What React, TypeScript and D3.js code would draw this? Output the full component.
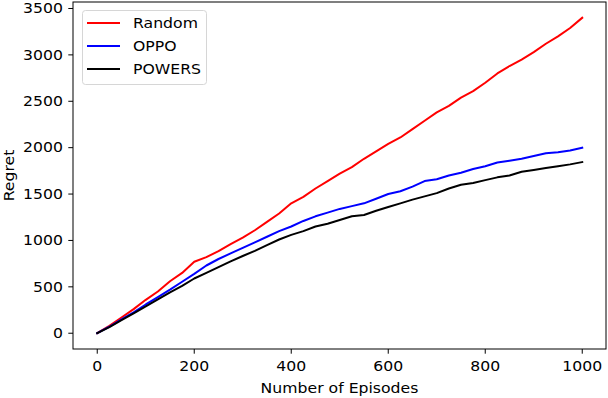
import React from "react";
import * as d3 from "d3";

const episodes = [0,25,50,75,100,125,150,175,200,225,250,275,300,325,350,375,400,425,450,475,500,525,550,575,600,625,650,675,700,725,750,775,800,825,850,875,900,925,950,975,1000];
const randomRegret = [0,80,170,260,360,450,560,650,770,820,885,960,1030,1110,1200,1290,1400,1470,1560,1640,1720,1790,1880,1960,2040,2110,2200,2290,2380,2450,2540,2610,2700,2800,2880,2950,3030,3120,3200,3290,3400];
const oppoRegret = [0,70,150,225,310,390,470,555,640,730,800,860,920,980,1040,1100,1150,1210,1260,1300,1340,1370,1400,1450,1500,1530,1580,1640,1660,1700,1730,1770,1800,1840,1860,1880,1910,1940,1950,1970,2000];
const powersRegret = [0,65,140,215,290,365,440,510,590,650,712,775,832,888,950,1010,1060,1100,1150,1180,1220,1260,1275,1320,1360,1400,1440,1475,1510,1560,1600,1620,1650,1680,1700,1740,1760,1780,1800,1820,1845];
const xTicks = [0,200,400,600,800,1000];
const yTicks = [0,500,1000,1500,2000,2500,3000,3500];
const seriesNames = ["Random","OPPO","POWERS"];
const seriesColors = ["#ff0000","#0000ff","#000000"];

const W = 608, H = 398;
const L = 73, R = 606, T = 2, B = 349;
const font = "'DejaVu Sans', sans-serif";
const fs = 14;
const sx = 1.12;

function T2({x, y, anchor, children, rotate}: any) {
  const tr = rotate ? `translate(${x},${y}) rotate(-90) scale(${sx},1)` : `translate(${x},${y}) scale(${sx},1)`;
  return <text transform={tr} textAnchor={anchor} dominantBaseline="central" fontFamily={font} fontSize={fs} fill="#000">{children}</text>;
}

export default function App() {
  const x = d3.scaleLinear().domain([-50, 1049]).range([L, R]);
  const y = d3.scaleLinear().domain([-170, 3570]).range([B, T]);
  const all = [randomRegret, oppoRegret, powersRegret];
  const line = d3.line<[number, number]>().x(d => x(d[0])).y(d => y(d[1]));
  return (
    <svg width={W} height={H} style={{position: "absolute", left: 0, top: 0, background: "#fff"}}>
      <rect x={0} y={0} width={W} height={H} fill="#fff" />
      {all.map((s, i) => (
        <path key={i} d={line(episodes.map((e, j) => [e, s[j]] as [number, number])) || ""} fill="none" stroke={seriesColors[i]} strokeWidth={2} strokeLinejoin="round" strokeLinecap="square" />
      ))}
      <rect x={L} y={T} width={R - L} height={B - T} fill="none" stroke="#000" strokeWidth={1} />
      {xTicks.map(t => (
        <g key={t}>
          <line x1={x(t)} x2={x(t)} y1={B} y2={B + 4.7} stroke="#000" strokeWidth={1} />
          <T2 x={x(t)} y={366} anchor="middle">{t}</T2>
        </g>
      ))}
      {yTicks.map(t => (
        <g key={t}>
          <line x1={L - 4.7} x2={L} y1={y(t)} y2={y(t)} stroke="#000" strokeWidth={1} />
          <T2 x={63} y={y(t)} anchor="end">{t}</T2>
        </g>
      ))}
      <T2 x={(L + R) / 2} y={388} anchor="middle">Number of Episodes</T2>
      <T2 x={9} y={(T + B) / 2} anchor="middle" rotate>Regret</T2>
      <rect x={82.5} y={10.5} width={124} height={74} rx={3} fill="#fff" fillOpacity={0.8} stroke="#d6d6d6" strokeWidth={1} />
      {seriesNames.map((n, i) => (
        <g key={n}>
          <line x1={87} x2={120} y1={23 + i * 23} y2={23 + i * 23} stroke={seriesColors[i]} strokeWidth={2} />
          <T2 x={133} y={23 + i * 23} anchor="start">{n}</T2>
        </g>
      ))}
    </svg>
  );
}
